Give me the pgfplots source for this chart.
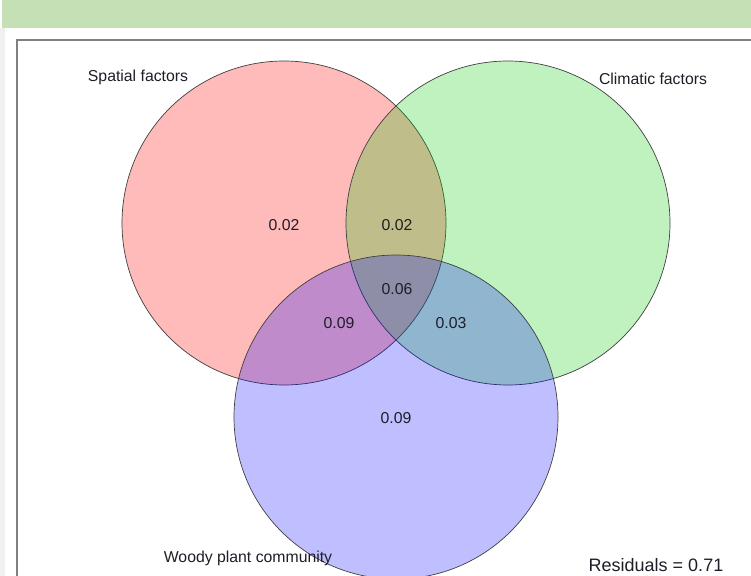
\documentclass[border=0pt]{standalone}
\usepackage{fontspec}
\setmainfont{Liberation Sans}
\usepackage{pgfplots}
\pgfplotsset{compat=1.18}
\definecolor{bandgreen}{RGB}{197,224,180}
\definecolor{vred}{RGB}{255,0,0}
\definecolor{vgreen}{RGB}{0,205,0}
\definecolor{vblue}{RGB}{0,0,255}
\definecolor{txt}{RGB}{30,30,40}
\begin{document}
\begin{tikzpicture}
\path[use as bounding box] (0,0) rectangle (751bp,576bp);
\begin{axis}[at={(0,0)}, anchor=south west, scale only axis,
  width=751bp, height=576bp, xmin=0, xmax=751, ymin=0, ymax=576,
  y dir=reverse, hide axis, clip=true]
\fill[white] (axis cs:0,0) rectangle (axis cs:751,576);
\fill[black!6] (axis cs:0,28) rectangle (axis cs:5,576);
\fill[bandgreen] (axis cs:2,0) rectangle (axis cs:751,28);
\draw[black!50, line width=1.5bp] (axis cs:17,600) -- (axis cs:17,40) -- (axis cs:760,40);
\addplot[only marks, mark=*, mark size=162bp,
  mark options={fill=vred, fill opacity=0.27, draw=black!75, line width=0.7bp}]
  coordinates {(284,223)};
\addplot[only marks, mark=*, mark size=162bp,
  mark options={fill=vgreen, fill opacity=0.25, draw=black!75, line width=0.7bp}]
  coordinates {(508,223)};
\addplot[only marks, mark=*, mark size=162bp,
  mark options={fill=vblue, fill opacity=0.25, draw=black!75, line width=0.7bp}]
  coordinates {(396,417)};
\coordinate (t1) at (axis cs:284,225);
\coordinate (t2) at (axis cs:397,225);
\coordinate (t3) at (axis cs:397,289);
\coordinate (t4) at (axis cs:339,323);
\coordinate (t5) at (axis cs:451,323);
\coordinate (t6) at (axis cs:396,418);
\coordinate (l1) at (axis cs:138,77);
\coordinate (l2) at (axis cs:653,79);
\coordinate (l3) at (axis cs:248,558);
\coordinate (l4) at (axis cs:656,565);
\end{axis}
\begin{scope}[every node/.style={text=txt, font=\fontsize{15.8bp}{18bp}\selectfont}]
\node at (t1) {0.02};
\node at (t2) {0.02};
\node at (t3) {0.06};
\node at (t4) {0.09};
\node at (t5) {0.03};
\node at (t6) {0.09};
\node at (l1) {Spatial factors};
\node at (l2) {Climatic factors};
\node at (l3) {Woody plant community};
\node[font=\fontsize{18bp}{20bp}\selectfont] at (l4) {Residuals = 0.71};
\end{scope}
\end{tikzpicture}
\end{document}
